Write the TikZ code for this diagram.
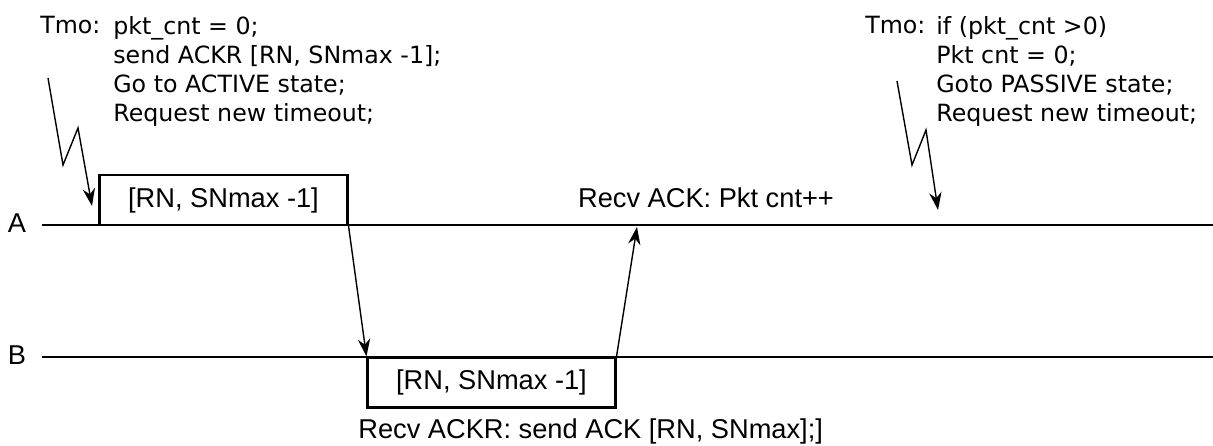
\documentclass[tikz,border=0pt]{standalone}
\usepackage{fontspec}
\setmainfont{DejaVu Sans}
\newfontfamily\labelfont{Liberation Sans}
\usetikzlibrary{arrows.meta, positioning}

\begin{document}
\begin{tikzpicture}[
    x=0.02cm, y=-0.02cm,
    >={Stealth[length=10pt, width=7pt]},
    lane/.style={line width=1.1pt},
    msgbox/.style={draw, line width=1.2pt, minimum width=4.96cm,
                   minimum height=1cm, inner sep=0pt,
                   font=\labelfont\fontsize{15.5}{18}\selectfont},
    event/.style={anchor=base, inner sep=0pt,
                  font=\labelfont\fontsize{15.5}{18}\selectfont},
    note/.style={align=left, inner sep=0pt, anchor=base west,
                 font=\fontsize{13.5}{16.4}\selectfont},
    msg/.style={->, line width=0.8pt}
  ]
  \useasboundingbox (0,0) rectangle (1213,446);

  % stations
  \node[event] (A) at (17,232) {A};
  \node[event] (B) at (17,364) {B};
  \coordinate (Astart) at (42,225);
  \coordinate (Bstart) at (42,357);
  \coordinate (Aend) at (1213,225);
  \coordinate (Bend) at (1213,357);
  \draw[lane] (Astart) -- (Aend);
  \draw[lane] (Bstart) -- (Bend);

  % frames
  \node[msgbox] (ackrA) at (223.5,200) {[RN, SNmax -1]};
  \node[msgbox] (ackrB) at (491.5,382.5) {[RN, SNmax -1]};
  \coordinate (ackA) at (637,227);

  % events
  \node[event] (recvack) at (706,207) {Recv ACK: Pkt cnt++};
  \node[event, anchor=base west] (recvackr) at (358,438)
    {Recv ACKR: send ACK [RN, SNmax];]};

  % timeouts (base sits on the last line)
  \node[note] (tmoA) at (40,34) {Tmo:};
  \node[note] (tmoAtxt) at (113,121) {pkt\_cnt = 0;\\ send ACKR [RN, SNmax -1];\\
    Go to ACTIVE state;\\ Request new timeout;};
  \node[note] (tmoB) at (865,34) {Tmo:};
  \node[note] (tmoBtxt) at (936,121) {if (pkt\_cnt >0)\\ Pkt cnt = 0;\\
    Goto PASSIVE state;\\ Request new timeout;};

  % zigzag timeout arrows
  \coordinate (za1) at (48,78);  \coordinate (za2) at (63,165);
  \coordinate (za3) at (78,128); \coordinate (za4) at (92,206);
  \coordinate (zb1) at (897,81); \coordinate (zb2) at (912,165);
  \coordinate (zb3) at (926,130); \coordinate (zb4) at (938,210);
  \draw[msg] (za1) -- (za2) -- (za3) -- (za4);
  \draw[msg] (zb1) -- (zb2) -- (zb3) -- (zb4);

  % messages
  \draw[msg] (ackrA.south east) -- (ackrB.north west);
  \draw[msg] (ackrB.north east) -- (ackA);
\end{tikzpicture}
\end{document}
